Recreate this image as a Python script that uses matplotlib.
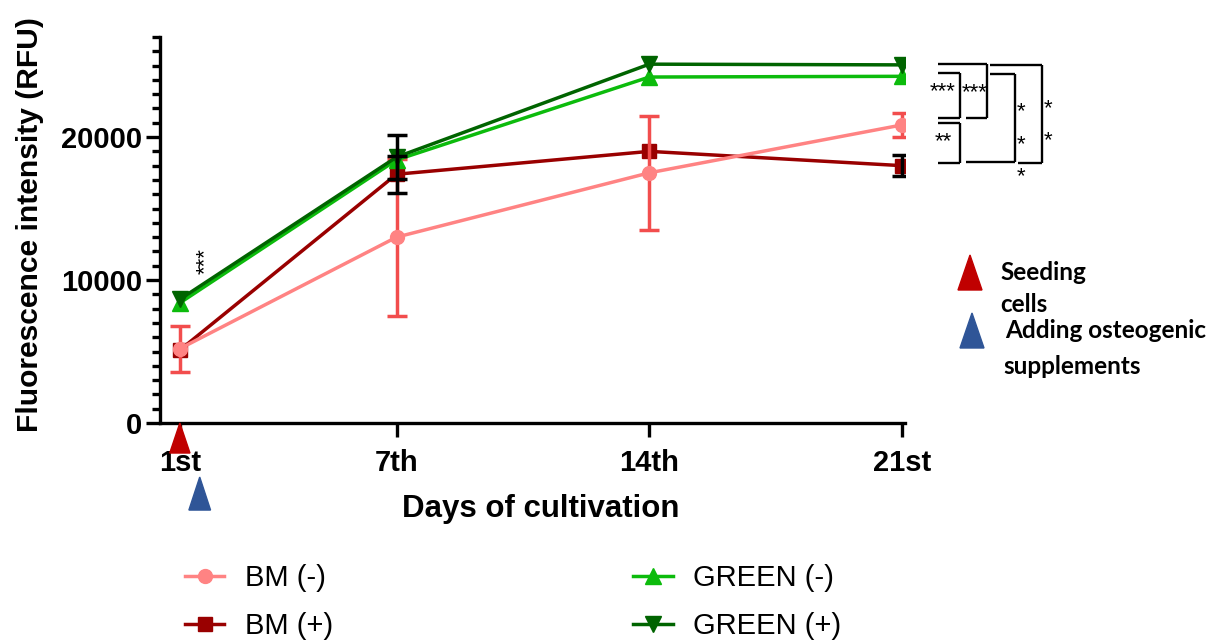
import matplotlib
matplotlib.use("Agg")
import matplotlib.pyplot as plt
from matplotlib.patches import Polygon
from matplotlib.ticker import MultipleLocator

# ---- data ----
days = [1, 7, 14, 21]
day_labels = ["1st", "7th", "14th", "21st"]

bm_minus = [5200, 13000, 17500, 20850]
bm_minus_err = [1600, 5500, 4000, 850]

bm_plus = [5100, 17400, 19000, 18000]
bm_plus_err = [0, 1300, 0, 750]

green_minus = [8400, 18400, 24200, 24250]
green_plus = [8650, 18600, 25100, 25050]
green_plus_err = [0, 1550, 0, 0]

W, H = 1227, 644
fig = plt.figure(figsize=(W / 100, H / 100), dpi=100)
ax = fig.add_axes([160 / W, 1 - 423 / H, (905 - 160) / W, (423 - 37) / H])

BOLD = dict(family="Liberation Sans", weight="bold")
lw = 2.5

c_bm_m = "#FF8383"
c_bm_m_err = "#F24D4D"
c_bm_p = "#990000"
c_gr_m = "#0CBB0C"
c_gr_p = "#006400"


def errbars(x, y, err, color, z):
    # only points with a non-zero spread get a bar
    keep = [i for i, e in enumerate(err) if e > 0]
    ax.errorbar([x[i] for i in keep], [y[i] for i in keep],
                yerr=[err[i] for i in keep], fmt="none", ecolor=color,
                elinewidth=lw, capsize=7, capthick=lw, zorder=z)


# BM (+)
ax.plot(days, bm_plus, color=c_bm_p, lw=lw, marker="s", ms=10, zorder=2,
        label="BM (+)")
# BM (-) with error bars
errbars(days, bm_minus, bm_minus_err, c_bm_m_err, 3)
ax.plot(days, bm_minus, color=c_bm_m, lw=lw, marker="o", ms=10, zorder=3,
        label="BM (-)")
# GREEN series
ax.plot(days, green_minus, color=c_gr_m, lw=lw, marker="^", ms=11.5, zorder=4,
        label="GREEN (-)")
ax.plot(days, green_plus, color=c_gr_p, lw=lw, marker="v", ms=11.5, zorder=4,
        label="GREEN (+)")
# black error bars on top
errbars(days, bm_plus, bm_plus_err, "black", 5)
errbars(days, green_plus, green_plus_err, "black", 5)

# ---- axes styling ----
ax.set_xlim(0.45, 21.08)
ax.set_ylim(0, 27000)
for s in ("top", "right"):
    ax.spines[s].set_visible(False)
for s in ("left", "bottom"):
    ax.spines[s].set_linewidth(2.4)

ax.set_xticks(days)
ax.set_xticklabels(day_labels, fontsize=21, **BOLD)
ax.set_yticks([0, 10000, 20000])
ax.set_yticklabels(["0", "10000", "20000"], fontsize=21, **BOLD)
ax.yaxis.set_minor_locator(MultipleLocator(1000))
ax.tick_params(axis="both", which="major", length=10, width=2.4)
ax.tick_params(axis="x", which="major", pad=9)
ax.tick_params(axis="y", which="major", pad=3)
ax.tick_params(axis="y", which="minor", length=6, width=2.4)

ax.set_xlabel("Days of cultivation", fontsize=22.5, **BOLD)
ax.xaxis.set_label_coords((541 - 160) / 745, (423 - 509) / 386)
ax.xaxis.label.set_va("center")
ax.set_ylabel("Fluorescence intensity (RFU)", fontsize=21.6, **BOLD)
ax.yaxis.set_label_coords((30 - 160) / 745, (423 - 225) / 386)
ax.yaxis.label.set_va("center")

# ---- significance brackets ----
def bracket(x_top, x_bot, x_v, y_top, y_bot):
    kw = dict(color="black", lw=1.7, clip_on=False, zorder=6,
              solid_capstyle="butt")
    ax.plot([x_top, x_v], [y_top, y_top], **kw)
    ax.plot([x_v, x_v], [y_top, y_bot], **kw)
    ax.plot([x_bot, x_v], [y_bot, y_bot], **kw)

bracket(22.0, 22.0, 22.6, 24480, 21330)
bracket(22.0, 22.77, 23.35, 25090, 21330)
bracket(22.0, 22.0, 22.6, 20985, 18190)
bracket(23.44, 22.77, 24.13, 24410, 18260)
bracket(23.44, 24.21, 24.88, 25040, 18190)

star_kw = dict(fontsize=16, family="Liberation Sans", ha="center",
               va="center", clip_on=False, zorder=7)
ax.text(22.13, 23150, "***", **star_kw)
ax.text(23.0, 23100, "***", **star_kw)
ax.text(22.13, 19700, "**", **star_kw)
for (sx, sy) in [(24.3, 21750), (24.3, 19500), (25.05, 22000),
                 (25.05, 19780), (24.3, 17250)]:
    ax.text(sx, sy, "*", **star_kw)
ax.text(1.7, 11300, "***", rotation=90, **star_kw)

# ---- event markers below the x axis ----
red_tri = "#C00000"
blue_tri = "#2F5597"
ax.add_patch(Polygon([(1.0, 0), (0.72, -2100), (1.28, -2100)], closed=True,
                     color=red_tri, clip_on=False, zorder=6))
ax.add_patch(Polygon([(1.55, -3780), (1.25, -6090), (1.85, -6090)],
                     closed=True, color=blue_tri, clip_on=False, zorder=6))

# key for the event markers
def fig_tri(xc, y_apex, y_base, half, color):
    pts = [(xc / W, 1 - y_apex / H), ((xc - half) / W, 1 - y_base / H),
           ((xc + half) / W, 1 - y_base / H)]
    fig.patches.append(Polygon(pts, closed=True, color=color,
                               transform=fig.transFigure, figure=fig))

fig_tri(970, 255, 290, 12, red_tri)
fig_tri(972, 313, 348, 12, blue_tri)

note_kw = dict(fontsize=17.5, family="Lato", weight="bold", ha="left",
               va="center")
fig.text(1000 / W, 1 - 272 / H, "Seeding", **note_kw)
fig.text(1000 / W, 1 - 305 / H, "cells", **note_kw)
fig.text(1005 / W, 1 - 331 / H, "Adding osteogenic", **note_kw)
fig.text(1003 / W, 1 - 366 / H, "supplements", **note_kw)

# ---- legend ----
handles, labels = ax.get_legend_handles_labels()
order = ["BM (-)", "BM (+)", "GREEN (-)", "GREEN (+)"]
hmap = dict(zip(labels, handles))
fig.legend([hmap[k] for k in order], order, loc="center left",
           bbox_to_anchor=(185 / W, 1 - 602 / H), ncol=2, frameon=False,
           prop=dict(family="Liberation Sans", size=21), handlelength=1.35,
           handletextpad=0.7, columnspacing=10.3, labelspacing=0.7,
           borderpad=0, borderaxespad=0)

fig.savefig("out.png", dpi=100)
